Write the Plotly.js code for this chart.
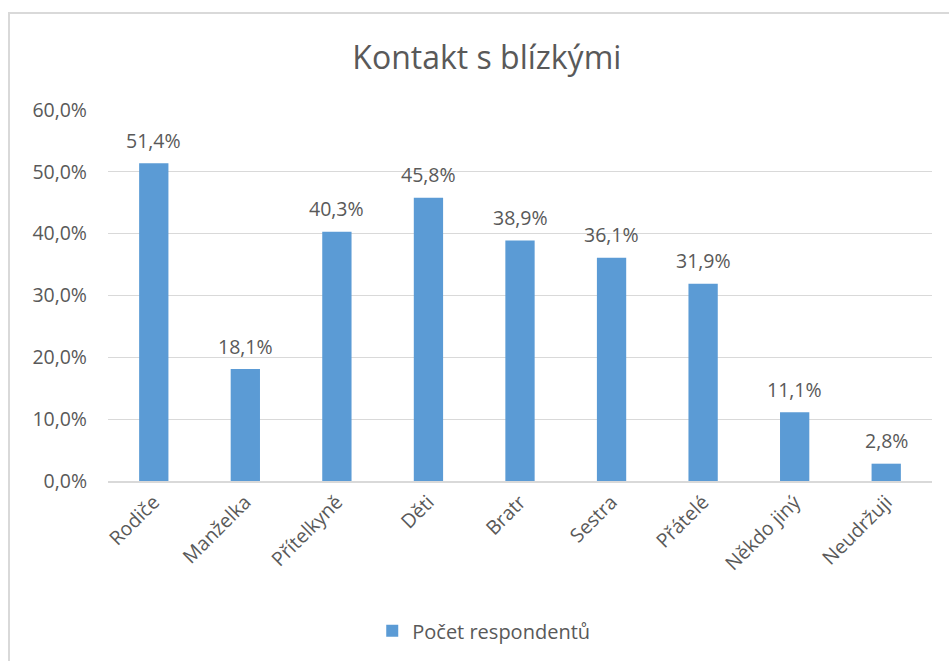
<!DOCTYPE html>
<html>
<head>
<meta charset="utf-8">
<script src="https://cdn.plot.ly/plotly-3.0.1.min.js"></script>
<style>
  html, body { margin: 0; padding: 0; background: #fff; }
  #frame { position: absolute; left: 8px; top: 12px; width: 960px; height: 660px;
           border-top: 2px solid #d9d9d9; border-left: 2px solid #d9d9d9; box-sizing: border-box; pointer-events: none; z-index: 2; }
  #chart { position: absolute; left: 0; top: 0; width: 949px; height: 661px; }
</style>
</head>
<body>
<div id="chart"></div>
<div id="frame"></div>
<script>
const categories = ["Rodiče", "Manželka", "Přítelkyně", "Děti", "Bratr", "Sestra", "Přátelé", "Někdo jiný", "Neudržuji"];
const values = [51.4, 18.1, 40.3, 45.8, 38.9, 36.1, 31.9, 11.1, 2.8];
const yTicks = [0, 10, 20, 30, 40, 50, 60];
const seriesName = "Počet respondentů";
const chartTitle = "Kontakt s blízkými";

const font = "'Open Sans', sans-serif";
const textColor = "#595959";
const fmt = v => v.toFixed(1).replace(".", ",") + "%";

const annotations = categories.map((c, i) => ({
  x: c, y: values[i], xref: "x", yref: "y",
  text: fmt(values[i]),
  showarrow: false, yanchor: "middle", yshift: 23,
  font: { family: font, size: 19.5, color: textColor }
}));

const trace = {
  type: "bar", x: categories, y: values, name: seriesName,
  marker: { color: "#5B9BD5" },
  hoverinfo: "none"
};

const layout = {
  width: 949, height: 661,
  margin: { l: 108, r: 17, t: 110, b: 179 },
  paper_bgcolor: "#fff", plot_bgcolor: "#fff",
  title: { text: chartTitle, x: 0.513, xanchor: "center", y: 0.913, yanchor: "middle",
           font: { family: font, size: 32, color: textColor } },
  bargap: 0.68,
  showlegend: true,
  legend: { orientation: "h", x: 0.456, xanchor: "center", y: -0.4, yanchor: "middle",
            font: { family: font, size: 20, color: textColor } },
  xaxis: {
    type: "category", tickangle: -45, showgrid: false, showline: true, linecolor: "#d9d9d9", linewidth: 2,
    ticks: "", tickfont: { family: font, size: 19.5, color: textColor }, fixedrange: true
  },
  yaxis: {
    range: [0, 60], tickmode: "array", tickvals: yTicks, ticktext: yTicks.map(fmt),
    showgrid: true, gridcolor: "#d9d9d9", gridwidth: 1, zeroline: false, showline: false,
    ticks: "", ticklen: 0, ticklabelstandoff: 20,
    tickfont: { family: font, size: 19.5, color: textColor }, fixedrange: true
  },
  annotations: annotations
};

Plotly.newPlot("chart", [trace], layout, { displayModeBar: false, staticPlot: true });
</script>
</body>
</html>
